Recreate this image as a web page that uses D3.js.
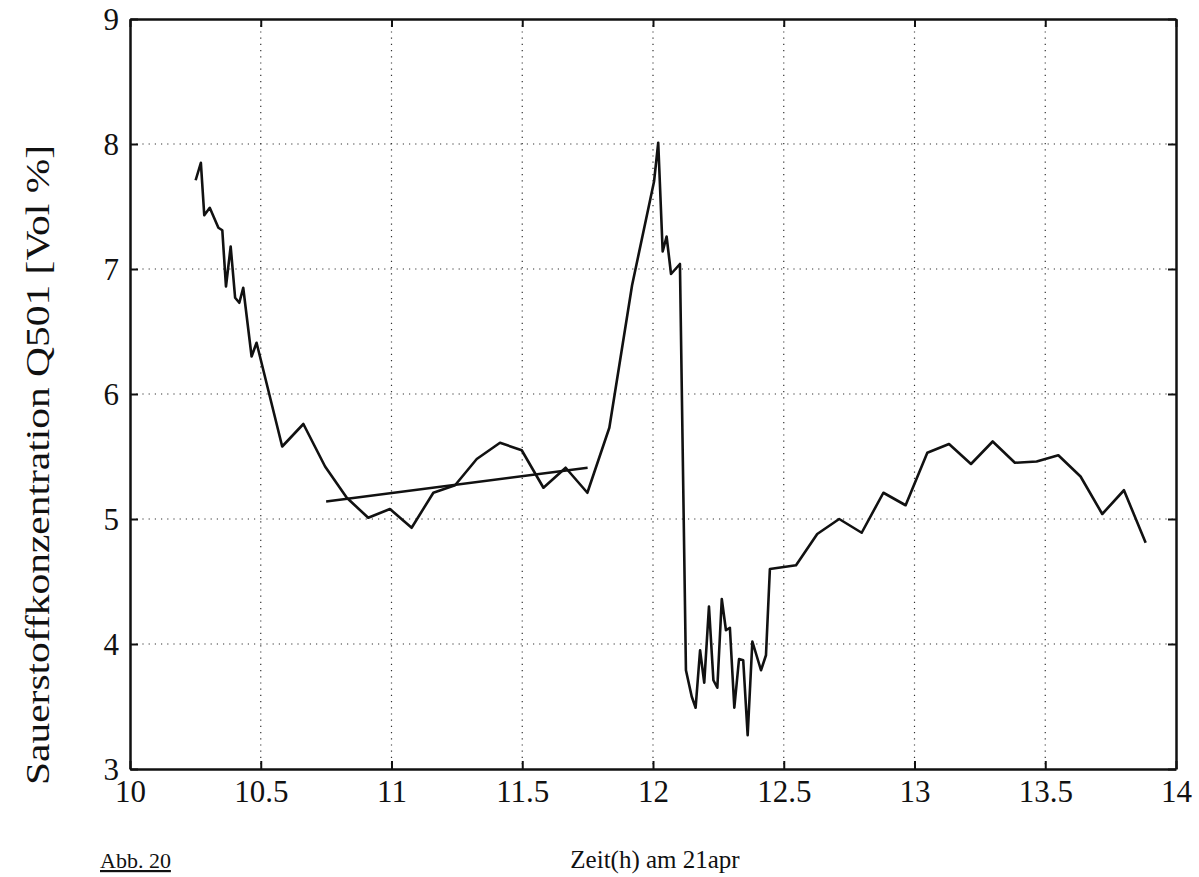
<!DOCTYPE html>
<html lang="en">
<head>
<meta charset="UTF-8">
<title>Sauerstoffkonzentration Q501</title>
<script src="https://d3js.org/d3.v7.min.js"></script>
<style>
  body { margin: 0; background: #fff; }
  svg text { font-family: "Liberation Serif", "Times New Roman", serif; fill: #111; }
</style>
</head>
<body>
<div id="chart"></div>
<script>
// time in hours (21 Apr)
const zeit = [10.251, 10.271, 10.284, 10.305, 10.338, 10.353, 10.367, 10.385, 10.402, 10.418,
  10.433, 10.465, 10.484, 10.582, 10.663, 10.746, 10.829, 10.911, 10.994, 11.077,
  11.16, 11.243, 11.326, 11.415, 11.498, 11.581, 11.666, 11.749, 11.833, 11.92,
  12.004, 12.02, 12.037, 12.052, 12.069, 12.103, 12.126, 12.148, 12.163, 12.18,
  12.196, 12.214, 12.231, 12.246, 12.263, 12.279, 12.294, 12.311, 12.329, 12.345,
  12.362, 12.38, 12.413, 12.432, 12.447, 12.547, 12.628, 12.712, 12.798, 12.881,
  12.966, 13.049, 13.132, 13.216, 13.299, 13.384, 13.467, 13.55, 13.635, 13.718,
  13.801, 13.884];
// oxygen concentration in Vol %
const sauerstoff = [7.71, 7.85, 7.43, 7.49, 7.33, 7.31, 6.86, 7.18, 6.77, 6.73,
  6.85, 6.30, 6.41, 5.58, 5.76, 5.42, 5.17, 5.01, 5.08, 4.93,
  5.21, 5.27, 5.48, 5.61, 5.55, 5.25, 5.41, 5.21, 5.73, 6.87,
  7.70, 8.01, 7.14, 7.26, 6.96, 7.04, 3.79, 3.58, 3.49, 3.95,
  3.69, 4.30, 3.71, 3.65, 4.36, 4.11, 4.13, 3.49, 3.88, 3.87,
  3.27, 4.02, 3.79, 3.91, 4.60, 4.63, 4.88, 5.00, 4.89, 5.21,
  5.11, 5.53, 5.60, 5.44, 5.62, 5.45, 5.46, 5.51, 5.34, 5.04,
  5.23, 4.81];
// straight trend segment
const trendZeit = [10.75, 11.75];
const trendWert = [5.14, 5.41];

const xTicks = [10, 10.5, 11, 11.5, 12, 12.5, 13, 13.5, 14];
const xTickLabels = ["10", "10.5", "11", "11.5", "12", "12.5", "13", "13.5", "14"];
const yTicks = [3, 4, 5, 6, 7, 8, 9];

const W = 1199, H = 877;
const margin = {top: 19, right: 23, bottom: 108, left: 130};
const width = W - margin.left - margin.right;
const height = H - margin.top - margin.bottom;

const svg = d3.select("#chart").append("svg")
  .attr("width", W).attr("height", H);

const x = d3.scaleLinear().domain([10, 14]).range([margin.left, margin.left + width]);
const y = d3.scaleLinear().domain([3, 9]).range([margin.top + height, margin.top]);

// dotted grid
const grid = svg.append("g").attr("stroke", "#333").attr("stroke-width", 1.2)
  .attr("stroke-dasharray", "1.2,5");
grid.selectAll(".gx").data(xTicks.slice(1, -1)).join("line")
  .attr("x1", d => x(d)).attr("x2", d => x(d))
  .attr("y1", y(9)).attr("y2", y(3));
grid.selectAll(".gy").data(yTicks.slice(1, -1)).join("line")
  .attr("x1", x(10)).attr("x2", x(14))
  .attr("y1", d => y(d)).attr("y2", d => y(d));

// axes with inward ticks
const xAxis = svg.append("g")
  .attr("transform", `translate(0,${y(3)})`)
  .call(d3.axisBottom(x).tickValues(xTicks).tickFormat((d, i) => xTickLabels[i]).tickSizeInner(-8).tickSizeOuter(0).tickPadding(14));
const xAxisTop = svg.append("g")
  .attr("transform", `translate(0,${y(9)})`)
  .call(d3.axisTop(x).tickValues(xTicks).tickFormat("").tickSizeInner(-8).tickSizeOuter(0));
const yAxis = svg.append("g")
  .attr("transform", `translate(${x(10)},0)`)
  .call(d3.axisLeft(y).tickValues(yTicks).tickFormat(d3.format("d")).tickSizeInner(-8).tickSizeOuter(0).tickPadding(11));
const yAxisRight = svg.append("g")
  .attr("transform", `translate(${x(14)},0)`)
  .call(d3.axisRight(y).tickValues(yTicks).tickFormat("").tickSizeInner(-8).tickSizeOuter(0));

[xAxis, xAxisTop, yAxis, yAxisRight].forEach(g => {
  g.select(".domain").attr("stroke", "#111").attr("stroke-width", 2.5);
  g.selectAll(".tick line").attr("stroke", "#111").attr("stroke-width", 2);
  g.selectAll(".tick text").attr("font-size", 31).attr("fill", "#111")
    .style("font-family", '"Liberation Serif", "Times New Roman", serif');
});
yAxis.selectAll(".tick text").attr("dy", "0.34em");
xAxis.selectAll(".tick text").attr("dy", "0.62em");

// data line
const line = d3.line().x(d => x(d[0])).y(d => y(d[1]));
svg.append("path")
  .datum(d3.zip(zeit, sauerstoff))
  .attr("fill", "none").attr("stroke", "#111").attr("stroke-width", 2.6)
  .attr("stroke-linejoin", "round")
  .attr("d", line);

svg.append("path")
  .datum(d3.zip(trendZeit, trendWert))
  .attr("fill", "none").attr("stroke", "#111").attr("stroke-width", 2.4)
  .attr("d", line);

// labels
svg.append("text")
  .attr("transform", `translate(49,465) rotate(-90)`)
  .attr("text-anchor", "middle")
  .attr("font-size", 34)
  .attr("textLength", 640)
  .attr("lengthAdjust", "spacingAndGlyphs")
  .text("Sauerstoffkonzentration Q501 [Vol %]");

svg.append("text")
  .attr("x", 655).attr("y", 868)
  .attr("text-anchor", "middle")
  .attr("font-size", 25)
  .text("Zeit(h) am 21apr");

svg.append("text")
  .attr("x", 100).attr("y", 868)
  .attr("font-size", 22)
  .attr("text-decoration", "underline")
  .text("Abb. 20");
</script>
</body>
</html>
